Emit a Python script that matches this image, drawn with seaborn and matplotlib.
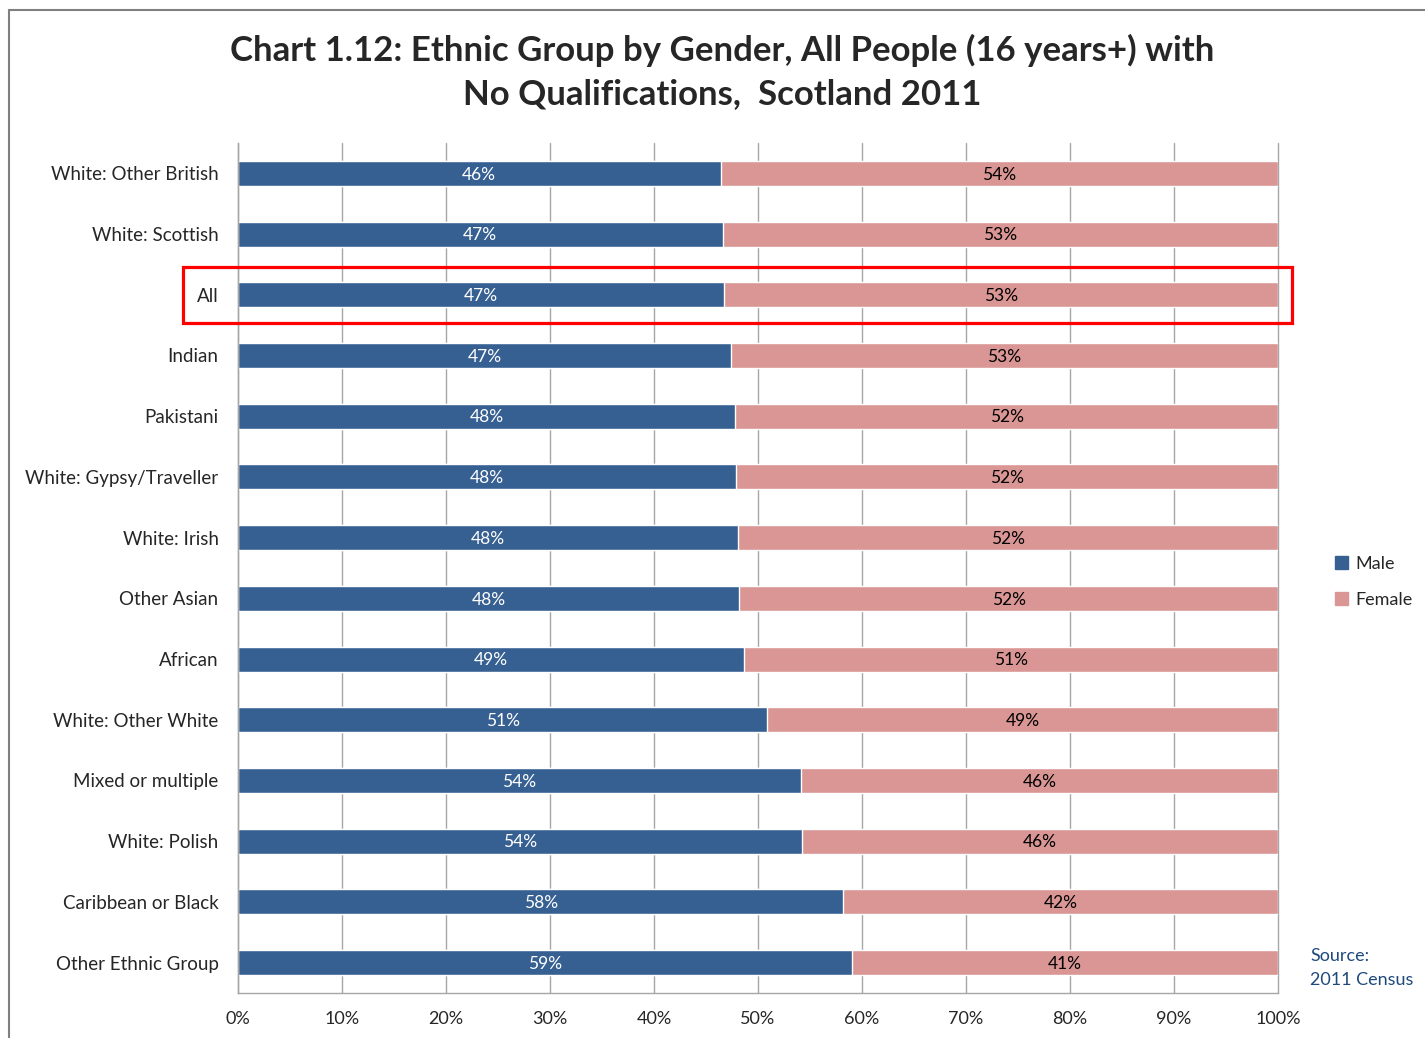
import matplotlib
matplotlib.use("Agg")
import matplotlib.pyplot as plt
import seaborn as sns
import numpy as np
import pandas as pd
from matplotlib.patches import Rectangle
from matplotlib.lines import Line2D

# values (percent of people with no qualifications)
groups = ['White: Other British', 'White: Scottish', 'All', 'Indian', 'Pakistani',
          'White: Gypsy/Traveller', 'White: Irish', 'Other Asian', 'African',
          'White: Other White', 'Mixed or multiple', 'White: Polish',
          'Caribbean or Black', 'Other Ethnic Group']
male = [46.4, 46.6, 46.7, 47.4, 47.8, 47.9, 48.1, 48.2, 48.7, 50.9, 54.1, 54.2, 58.2, 59.0]
female = [53.6, 53.4, 53.3, 52.6, 52.2, 52.1, 51.9, 51.8, 51.3, 49.1, 45.9, 45.8, 41.8, 41.0]
highlight = 'All'

MALE_COL = '#376092'
FEMALE_COL = '#D99694'
GRID_COL = '#A6A6A6'

df = pd.DataFrame({'group': groups, 'male': male, 'female': female})
df['total'] = df['male'] + df['female']

sns.set_style('white')
plt.rcParams['font.family'] = ['Lato', 'DejaVu Sans']

fig = plt.figure(figsize=(14.25, 10.38), dpi=100)
ax = fig.add_axes([238 / 1425, 1 - 993 / 1038, 1040 / 1425, 850 / 1038])

# stacked: full bar in female colour, male drawn over it
sns.barplot(data=df, y='group', x='total', color=FEMALE_COL, width=0.41,
            saturation=1, ax=ax, orient='h')
sns.barplot(data=df, y='group', x='male', color=MALE_COL, width=0.41,
            saturation=1, ax=ax, orient='h')

for i, row in df.iterrows():
    ax.text(row['male'] / 2, i + 0.02, f"{row['male']:.0f}%", ha='center', va='center',
            color='white', fontsize=12.5)
    ax.text(row['male'] + row['female'] / 2, i + 0.02, f"{row['female']:.0f}%", ha='center',
            va='center', color='black', fontsize=12.5)

ax.set_xlim(0, 100)
ax.set_ylim(len(groups) - 0.5, -0.5)
ax.set_xticks(np.arange(0, 101, 10))
ax.set_xticklabels([f'{v}%' for v in range(0, 101, 10)], fontsize=13)
ax.set_yticks(range(len(groups)))
ax.set_yticklabels(groups, fontsize=13.5)
ax.set_yticks(np.arange(-0.5, len(groups), 1), minor=True)
ax.tick_params(axis='y', which='major', length=0, pad=14)
ax.tick_params(axis='y', which='minor', length=5, color=GRID_COL, width=1)
ax.tick_params(axis='x', length=5, color=GRID_COL, width=1, pad=8)
ax.set_xlabel('')
ax.set_ylabel('')
ax.xaxis.grid(True, color=GRID_COL, linewidth=1)
for gl in ax.get_xgridlines():
    gl.set_clip_on(False)
ax.set_axisbelow(True)
for s in ['top', 'right']:
    ax.spines[s].set_visible(False)
for s in ['left', 'bottom']:
    ax.spines[s].set_color(GRID_COL)
    ax.spines[s].set_linewidth(1)

# red box round the "All" row
hi = groups.index(highlight)
ax.add_patch(Rectangle((-5.3, hi - 0.46), 106.6, 0.92, fill=False, edgecolor='#FF0000',
                       linewidth=2.3, clip_on=False, zorder=5))

fig.text(0.507, 1 - 72 / 1038,
         'Chart 1.12: Ethnic Group by Gender, All People (16 years+) with\nNo Qualifications,  Scotland 2011',
         ha='center', va='center', fontsize=25, fontweight='bold', linespacing=1.45)

handles = [Rectangle((0, 0), 1, 1, color=MALE_COL), Rectangle((0, 0), 1, 1, color=FEMALE_COL)]
fig.legend(handles, ['Male', 'Female'], loc='center left',
           bbox_to_anchor=(1319 / 1425, 1 - 582 / 1038), frameon=False, fontsize=13,
           handlelength=0.7, handleheight=0.7, handletextpad=0.4, labelspacing=1.1)

fig.text(1310 / 1425, 1 - 968 / 1038, 'Source:\n2011 Census', ha='left', va='center',
         color='#1F497D', fontsize=13, linespacing=1.55)

# chart frame
fig.add_artist(Line2D([9 / 1425, 9 / 1425], [0, 1 - 10 / 1038], color='#808080',
                      linewidth=1.5, transform=fig.transFigure))
fig.add_artist(Line2D([9 / 1425, 1], [1 - 10 / 1038, 1 - 10 / 1038], color='#808080',
                      linewidth=1.5, transform=fig.transFigure))

fig.savefig('out.png', dpi=100)
